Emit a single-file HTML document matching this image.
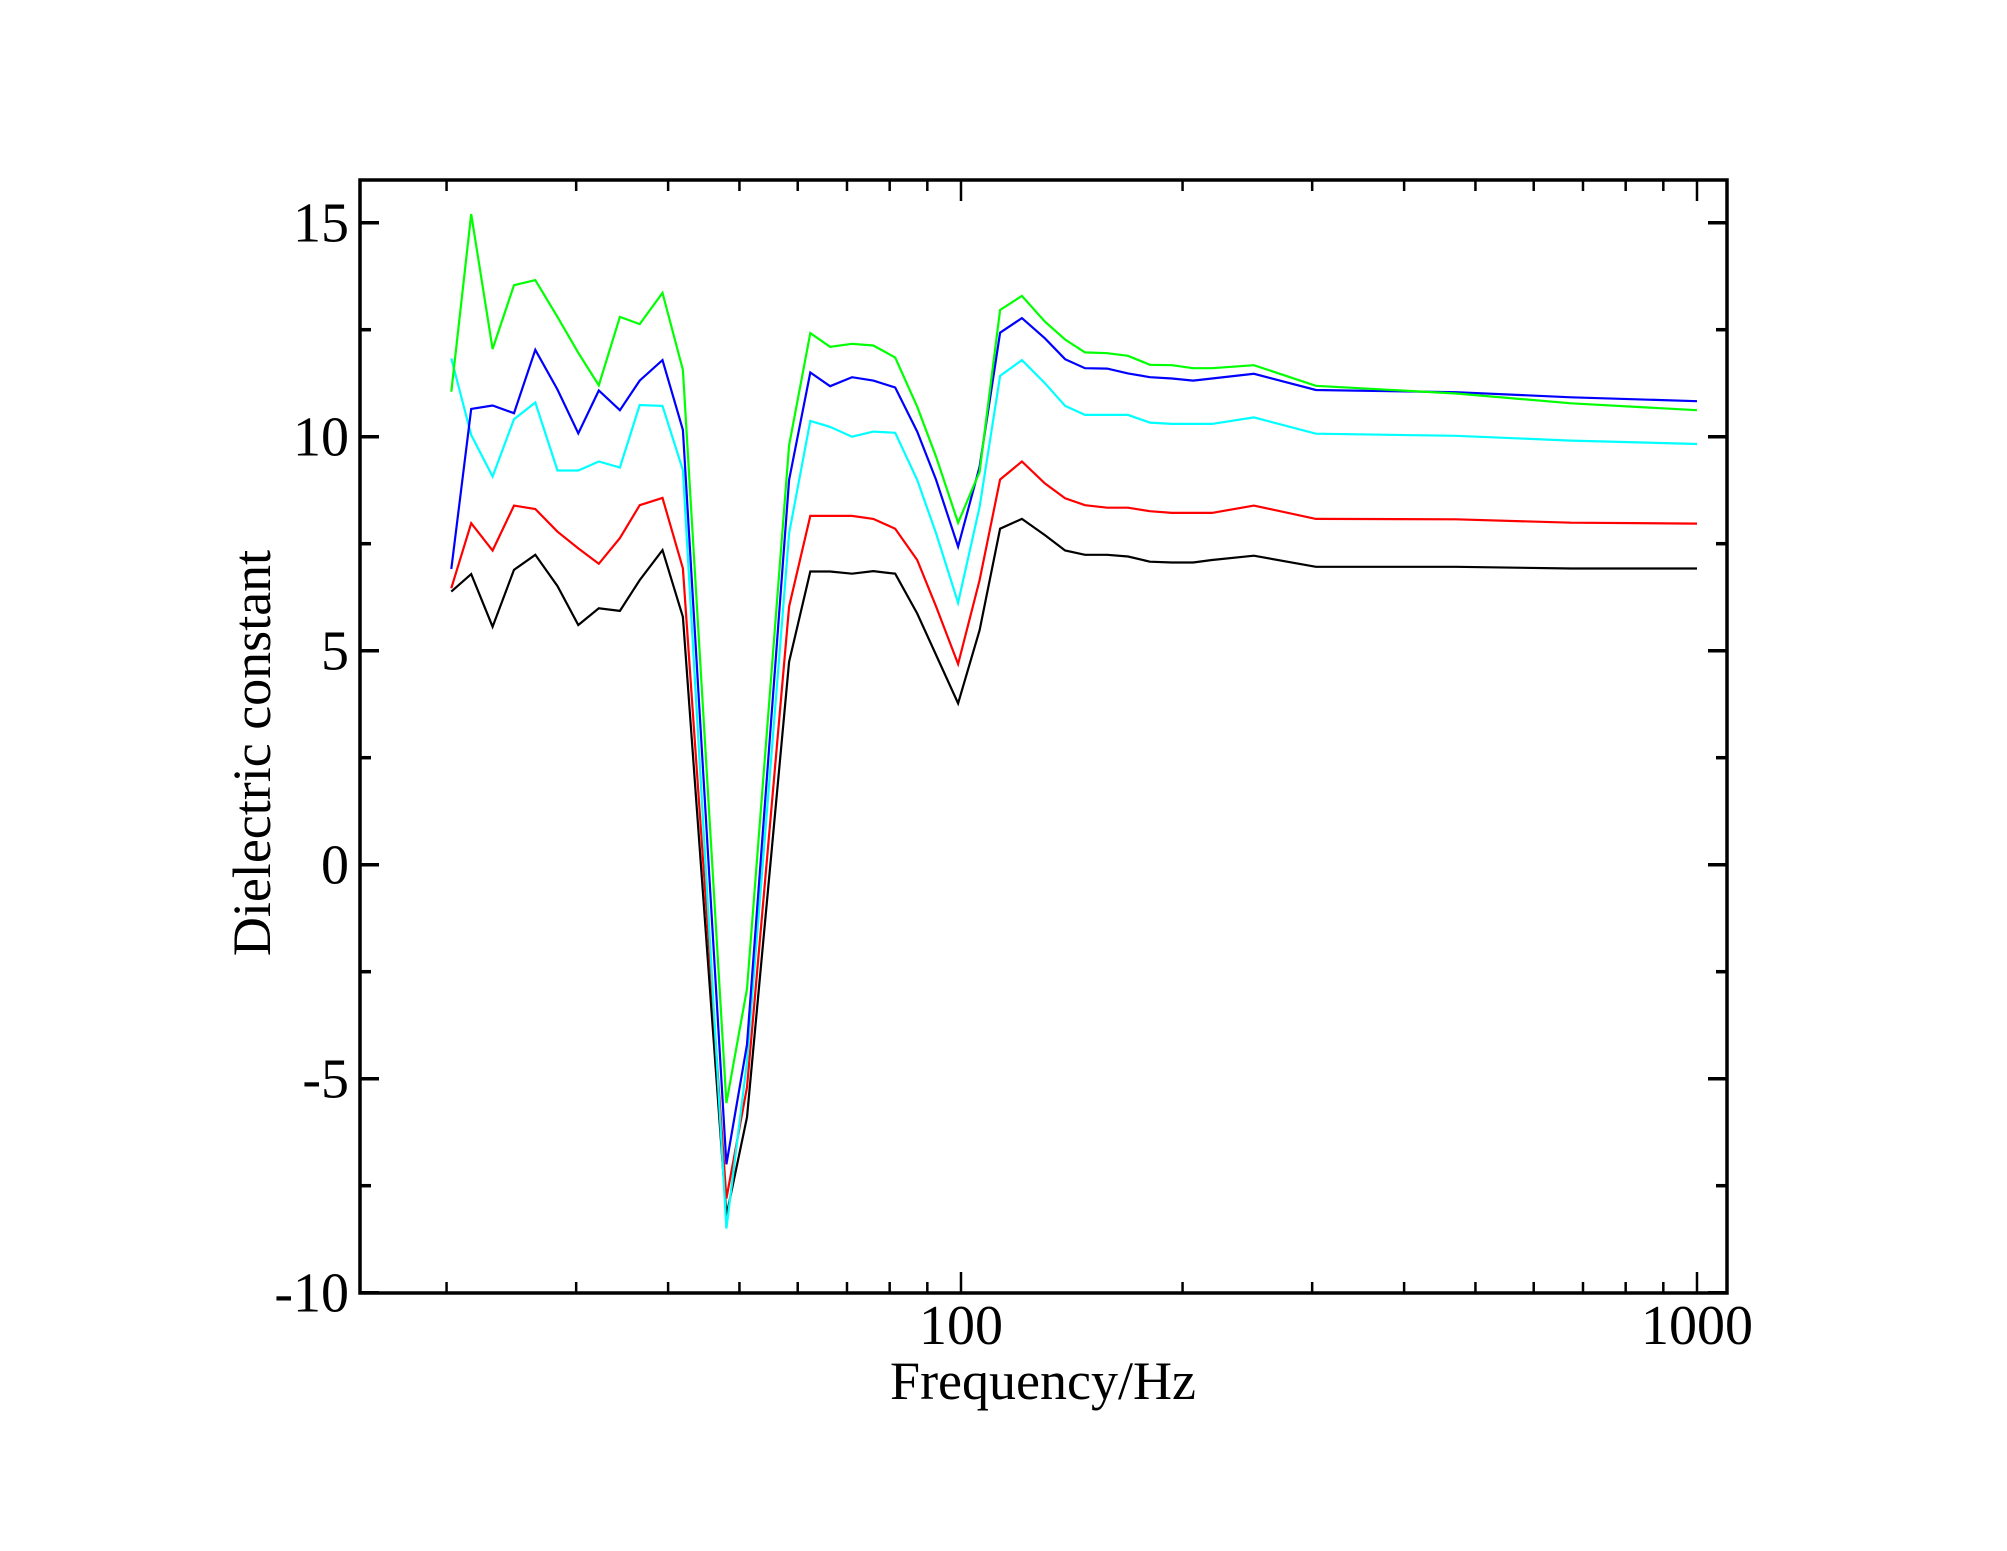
<!DOCTYPE html>
<html><head><meta charset="utf-8"><style>
html,body{margin:0;padding:0;background:#fff;}
svg{display:block;font-family:"Liberation Serif",serif;}
</style></head><body>
<svg id="chart" width="2007" height="1551" viewBox="0 0 2007 1551" xmlns="http://www.w3.org/2000/svg">
<rect x="0" y="0" width="2007" height="1551" fill="#fff"/>
<g id="series"></g>
<g id="axes"></g>
<text x="1043" y="1399" font-size="54" text-anchor="middle">Frequency/Hz</text>
<text x="0" y="0" font-size="54" text-anchor="middle" transform="translate(270,753) rotate(-90)">Dielectric constant</text>
</svg>
<script>
const freqs = [20.3,21.6,23.1,24.7,26.4,28.3,30.2,32.2,34.4,36.6,39.3,41.9,48.0,51.2,58.4,62.4,66.4,71.1,76.0,81.4,87.2,92.5,99.1,106,113,121,130,138.5,147.4,158,168.6,180.6,193.5,206.7,219.3,250,303.5,470.6,674.4,1000];
const seriesBlack = [6.38,6.79,5.56,6.89,7.24,6.51,5.6,5.99,5.93,6.65,7.35,5.79,-8.2,-5.9,4.74,6.85,6.85,6.8,6.86,6.8,5.87,4.9,3.77,5.48,7.85,8.08,7.7,7.34,7.24,7.24,7.2,7.08,7.06,7.06,7.12,7.22,6.96,6.96,6.92,6.92];
const seriesRed = [6.46,7.98,7.34,8.39,8.31,7.78,7.39,7.03,7.63,8.4,8.57,6.92,-7.8,-5.2,6.03,8.15,8.15,8.15,8.08,7.85,7.12,6.03,4.69,6.65,9.0,9.42,8.91,8.56,8.4,8.34,8.34,8.26,8.22,8.22,8.22,8.39,8.08,8.07,7.99,7.97];
const seriesCyan = [11.83,10.04,9.07,10.41,10.8,9.21,9.21,9.42,9.28,10.74,10.72,9.22,-8.5,-4.6,7.74,10.37,10.23,10.0,10.12,10.09,8.99,7.74,6.12,8.36,11.42,11.79,11.25,10.72,10.51,10.51,10.51,10.33,10.3,10.3,10.3,10.45,10.07,10.02,9.91,9.83];
const seriesBlue = [6.91,10.65,10.73,10.55,12.03,11.1,10.08,11.08,10.62,11.31,11.79,10.16,-7.0,-4.2,8.99,11.5,11.18,11.39,11.31,11.15,10.12,8.99,7.43,9.3,12.43,12.77,12.3,11.81,11.6,11.59,11.48,11.39,11.36,11.31,11.36,11.47,11.09,11.04,10.92,10.83];
const seriesGreen = [11.05,15.2,12.05,13.54,13.66,12.8,11.96,11.2,12.8,12.63,13.36,11.56,-5.57,-2.9,9.8,12.42,12.1,12.17,12.13,11.85,10.7,9.53,7.99,9.18,12.96,13.29,12.69,12.27,11.97,11.95,11.89,11.68,11.67,11.6,11.6,11.67,11.19,11.01,10.78,10.62];
const yTicks = [-10,-5,0,5,10,15];
const yTickLabels = ["-10","-5","0","5","10","15"];
const xMajor = [100,1000];
const xMajorLabels = ["100","1000"];

const NS="http://www.w3.org/2000/svg";
const L=360,R=1727,T=180,B=1293;
const X0=961, DEC=736;
function xs(f){return X0+DEC*Math.log10(f/100);}
const Y15=222.7, UNIT=42.8;
function ys(v){return Y15+(15-v)*UNIT;}
function mk(tag,attrs,parent){const e=document.createElementNS(NS,tag);for(const k in attrs)e.setAttribute(k,attrs[k]);parent.appendChild(e);return e;}

const sg=document.getElementById('series');
const defs=[[seriesBlack,'#000','series-black'],[seriesRed,'#ff0000','series-red'],[seriesCyan,'#00ffff','series-cyan'],[seriesBlue,'#0000ff','series-blue'],[seriesGreen,'#00ff00','series-green']];
defs.forEach(d=>{
  const pts=d[0].map((v,i)=>xs(freqs[i]).toFixed(1)+','+ys(v).toFixed(1)).join(' ');
  const p=mk('polyline',{points:pts,fill:'none',stroke:d[1],'stroke-width':2.2,'stroke-linejoin':'miter'},sg);
  
  
});

const ag=document.getElementById('axes');
const frame=mk('rect',{x:L,y:T,width:R-L,height:B-T,fill:'none',stroke:'#000','stroke-width':3.5},ag);


// y ticks
for(let v=-10;v<=15;v+=2.5){
  const y=ys(v); const major=(v%5===0); const len=major?19:11;
  const t1=mk('line',{x1:L,y1:y,x2:L+len,y2:y,stroke:'#000','stroke-width':3.5},ag);
  
  
  const t2=mk('line',{x1:R,y1:y,x2:R-len,y2:y,stroke:'#000','stroke-width':3.5},ag);
  
  
}
yTicks.forEach((v,i)=>{
  const t=mk('text',{x:349,y:ys(v)+19,'font-size':56,'text-anchor':'end'},ag);
  t.textContent=yTickLabels[i];
  
  
});
// x ticks
const minor=[20,30,40,50,60,70,80,90,200,300,400,500,600,700,800,900];
minor.forEach(f=>{
  const x=xs(f);
  const a=mk('line',{x1:x,y1:B,x2:x,y2:B-11,stroke:'#000','stroke-width':2.5},ag);
  
  
  const b=mk('line',{x1:x,y1:T,x2:x,y2:T+11,stroke:'#000','stroke-width':2.5},ag);
  
  
});
xMajor.forEach((f,i)=>{
  const x=xs(f);
  const a=mk('line',{x1:x,y1:B,x2:x,y2:B-21,stroke:'#000','stroke-width':2.5},ag);
  
  
  const b=mk('line',{x1:x,y1:T,x2:x,y2:T+21,stroke:'#000','stroke-width':2.5},ag);
  
  
  const t=mk('text',{x:x,y:1344,'font-size':56,'text-anchor':'middle'},ag);
  t.textContent=xMajorLabels[i];
  
  
});
</script>
</body></html>
